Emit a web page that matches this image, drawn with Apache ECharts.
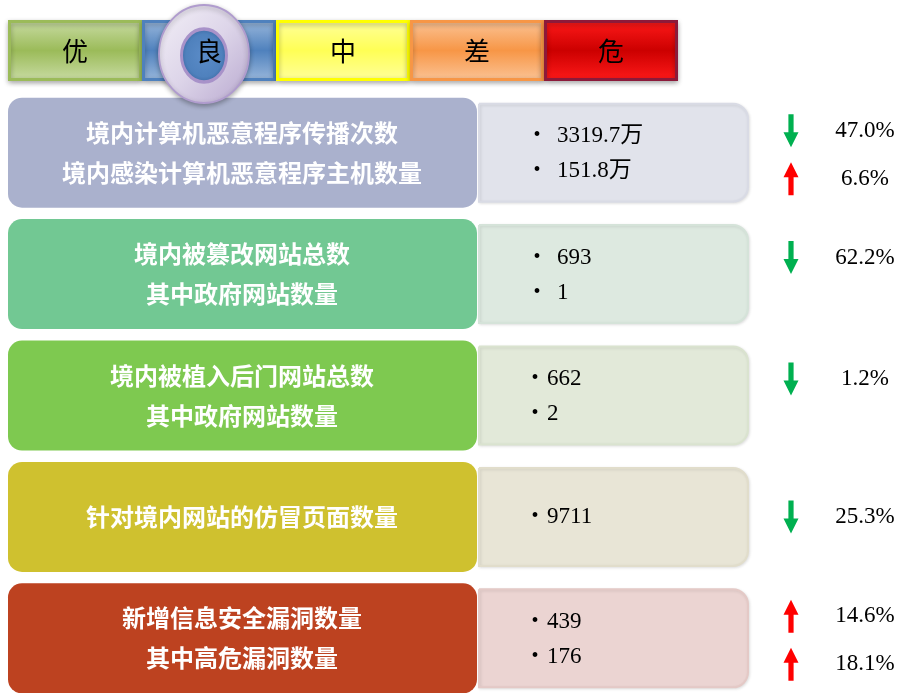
<!DOCTYPE html>
<html>
<head>
<meta charset="utf-8">
<script src="https://cdn.jsdelivr.net/npm/echarts@6/dist/echarts.min.js"></script>
<style>
html,body{margin:0;padding:0;background:#ffffff;}
#main{width:902px;height:693px;}
</style>
</head>
<body>
<div id="main"></div>
<script>
// ---------- data ----------
const levels = ['优', '良', '中', '差', '危'];
const currentLevel = '良';
const indicatorNames = [
  ['境内计算机恶意程序传播次数', '境内感染计算机恶意程序主机数量'],
  ['境内被篡改网站总数', '其中政府网站数量'],
  ['境内被植入后门网站总数', '其中政府网站数量'],
  ['针对境内网站的仿冒页面数量'],
  ['新增信息安全漏洞数量', '其中高危漏洞数量']
];
const indicatorValues = [
  ['3319.7万', '151.8万'],
  ['693', '1'],
  ['662', '2'],
  ['9711'],
  ['439', '176']
];
const changePercents = [
  [-47.0, 6.6],
  [-62.2],
  [-1.2],
  [-25.3],
  [14.6, 18.1]
];

// ---------- styles ----------
const levelStyles = [
  { mid: '#9bbb59', edge: '#c9dca4', border: '#9bbb59' },
  { mid: '#4f81bd', edge: '#9ab8dc', border: '#4f81bd' },
  { mid: '#ffff55', edge: '#ffff9c', border: '#ffff00' },
  { mid: '#f79646', edge: '#fbc497', border: '#f79646' },
  { mid: '#cc0000', edge: '#ff1a1a', border: '#8c1a3a' }
];
const leftColors = ['#aab1cd', '#72c893', '#7ec950', '#cfc12f', '#bd4220'];
const rightColors = ['#e1e3eb', '#dde9e0', '#e2e9d9', '#e8e5d6', '#ebd4d2'];
const rightBorders = ['#d9dbe5', '#d5e3d9', '#dae3cf', '#e1ddcb', '#e4c9c6'];
const GREEN = '#00b050', RED = '#ff0000';
const CJK = '"Noto Sans CJK SC", "Noto Sans", sans-serif';
const SERIF = '"Liberation Serif", "Noto Sans CJK SC", serif';

function arrow(cx, cy, up, color) {
  const h = 16.5, sw = 2.6, hw = 7.5, hl = 15;
  let pts;
  if (up) {
    pts = [[cx, cy - h], [cx + hw, cy - h + hl], [cx + sw, cy - h + hl], [cx + sw, cy + h],
           [cx - sw, cy + h], [cx - sw, cy - h + hl], [cx - hw, cy - h + hl]];
  } else {
    pts = [[cx, cy + h], [cx + hw, cy + h - hl], [cx + sw, cy + h - hl], [cx + sw, cy - h],
           [cx - sw, cy - h], [cx - sw, cy + h - hl], [cx - hw, cy + h - hl]];
  }
  return { type: 'polygon', shape: { points: pts }, style: { fill: color } };
}

function renderRow(params, api) {
  const i = params.dataIndex;
  const cy = api.coord([0, api.value(1)])[1];
  const children = [];
  // right box (drawn first)
  children.push({
    type: 'rect',
    shape: { x: 479, y: cy - 49, width: 269, height: 98, r: [0, 15, 15, 0] },
    style: { fill: rightColors[i], stroke: rightBorders[i], lineWidth: 2,
             shadowBlur: 3, shadowColor: 'rgba(0,0,0,0.1)', shadowOffsetX: 1, shadowOffsetY: 1 }
  });
  // left box
  children.push({
    type: 'rect',
    shape: { x: 8, y: cy - 55, width: 469, height: 110, r: 14 },
    style: { fill: leftColors[i] }
  });
  // left texts
  const names = indicatorNames[i];
  names.forEach((t, k) => {
    const ty = names.length === 1 ? cy : cy + (k === 0 ? -20 : 20);
    children.push({
      type: 'text',
      style: { text: t, x: 242, y: ty, fill: '#ffffff', fontFamily: CJK, fontWeight: 'bold',
               fontSize: 24, align: 'center', verticalAlign: 'middle' }
    });
  });
  // values
  const vals = indicatorValues[i];
  const valY = [];
  vals.forEach((v, k) => {
    const vy = vals.length === 1 ? cy : cy + 1 + (k === 0 ? -17.5 : 17.5);
    valY.push(vy);
    const tight = i >= 2;
    children.push({
      type: 'text',
      style: { text: '•', x: tight ? 535 : 537, y: vy, fill: '#000', fontFamily: SERIF,
               fontSize: 20, align: 'center', verticalAlign: 'middle' }
    });
    children.push({
      type: 'text',
      style: { text: v, x: tight ? 547 : 557, y: vy, fill: '#000', fontFamily: SERIF,
               fontSize: 23, align: 'left', verticalAlign: 'middle' }
    });
  });
  // changes
  const ch = changePercents[i];
  ch.forEach((p, k) => {
    let ay;
    if (ch.length === 2) ay = cy + 2 + (k === 0 ? -24 : 24);
    else ay = valY[0];
    const up = p > 0;
    children.push(arrow(791, ay, up, up ? RED : GREEN));
    children.push({
      type: 'text',
      style: { text: Math.abs(p).toFixed(1) + '%', x: 865, y: ay, fill: '#000', fontFamily: SERIF,
               fontSize: 23, align: 'center', verticalAlign: 'middle' }
    });
  });
  return { type: 'group', children: children };
}

const BAR_TOP = 20, BAR_H = 61;

function renderLevel(params, api) {
  const i = params.dataIndex;
  const c = api.coord([api.value(0), 0]);
  const w = api.size([1, 0])[0];
  const s = levelStyles[i];
  return {
    type: 'group',
    children: [
      {
        type: 'rect',
        shape: { x: c[0] - w / 2 + 1.5, y: BAR_TOP + 1.5, width: w - 3, height: BAR_H - 3 },
        style: {
          fill: new echarts.graphic.LinearGradient(0, 0, 0, 1, [
            { offset: 0, color: s.edge }, { offset: 0.5, color: s.mid }, { offset: 1, color: s.edge }
          ]),
          stroke: s.border, lineWidth: 3,
          shadowBlur: 5, shadowColor: 'rgba(0,0,0,0.3)', shadowOffsetY: 2
        }
      },
      {
        type: 'text',
        style: { text: levels[i], x: c[0], y: BAR_TOP + BAR_H / 2 + 1, fill: '#000', fontFamily: CJK,
                 fontSize: 26, align: 'center', verticalAlign: 'middle' }
      }
    ]
  };
}

function renderRing(params, api) {
  const idx = api.value(0);
  const c = api.coord([idx, 0]);
  const cx = c[0] - 5, cy = 54;
  return {
    type: 'group',
    children: [
      {
        type: 'group', x: cx, y: cy, scaleX: 45 / 49, scaleY: 1,
        children: [{
          type: 'circle',
          shape: { cx: 0, cy: 0, r: 49 },
          style: {
            fill: new echarts.graphic.LinearGradient(0, 0, 1, 1, [
              { offset: 0, color: '#f3f0f7' }, { offset: 0.5, color: '#ddd5e9' }, { offset: 1, color: '#b8a8cf' }
            ]),
            stroke: '#b09cce', lineWidth: 2,
            shadowBlur: 5, shadowColor: 'rgba(0,0,0,0.3)', shadowOffsetY: 2
          }
        }]
      },
      {
        type: 'group', x: cx, y: cy + 1.5, scaleX: 22.5 / 26.5, scaleY: 1,
        children: [{
          type: 'circle',
          shape: { cx: 0, cy: 0, r: 26.5 },
          style: {
            fill: new echarts.graphic.RadialGradient(0.5, 0.5, 0.5, [
              { offset: 0, color: '#5b8cc8' }, { offset: 0.75, color: '#4f81bd' }, { offset: 1, color: '#3c6aa3' }
            ]),
            stroke: '#a892c9', lineWidth: 3.5
          }
        }]
      },
      {
        type: 'text',
        style: { text: levels[idx], x: c[0], y: BAR_TOP + BAR_H / 2 + 1, fill: '#000', fontFamily: CJK,
                 fontSize: 26, align: 'center', verticalAlign: 'middle' }
      }
    ]
  };
}

const chart = echarts.init(document.getElementById('main'), null, { renderer: 'canvas' });
chart.setOption({
  backgroundColor: '#ffffff',
  animation: false,
  grid: [
    { left: 0, right: 0, top: 92, bottom: 0 },
    { left: 8, width: 670, top: BAR_TOP, height: BAR_H }
  ],
  xAxis: [
    { gridIndex: 0, type: 'value', min: 0, max: 902, show: false },
    { gridIndex: 1, type: 'category', data: levels, show: false }
  ],
  yAxis: [
    { gridIndex: 0, type: 'value', min: -0.5, max: 4.45, inverse: true, show: false },
    { gridIndex: 1, type: 'value', min: 0, max: 1, show: false }
  ],
  series: [
    {
      type: 'custom', xAxisIndex: 0, yAxisIndex: 0, z: 2,
      renderItem: renderRow,
      data: indicatorNames.map((n, i) => [0, i]),
      encode: { x: 0, y: 1 }
    },
    {
      type: 'custom', xAxisIndex: 1, yAxisIndex: 1, z: 3,
      renderItem: renderLevel,
      data: levels.map((l, i) => [i, 0])
    },
    {
      type: 'custom', xAxisIndex: 1, yAxisIndex: 1, z: 4,
      renderItem: renderRing,
      data: [[levels.indexOf(currentLevel), 0]]
    }
  ]
});
</script>
</body>
</html>
